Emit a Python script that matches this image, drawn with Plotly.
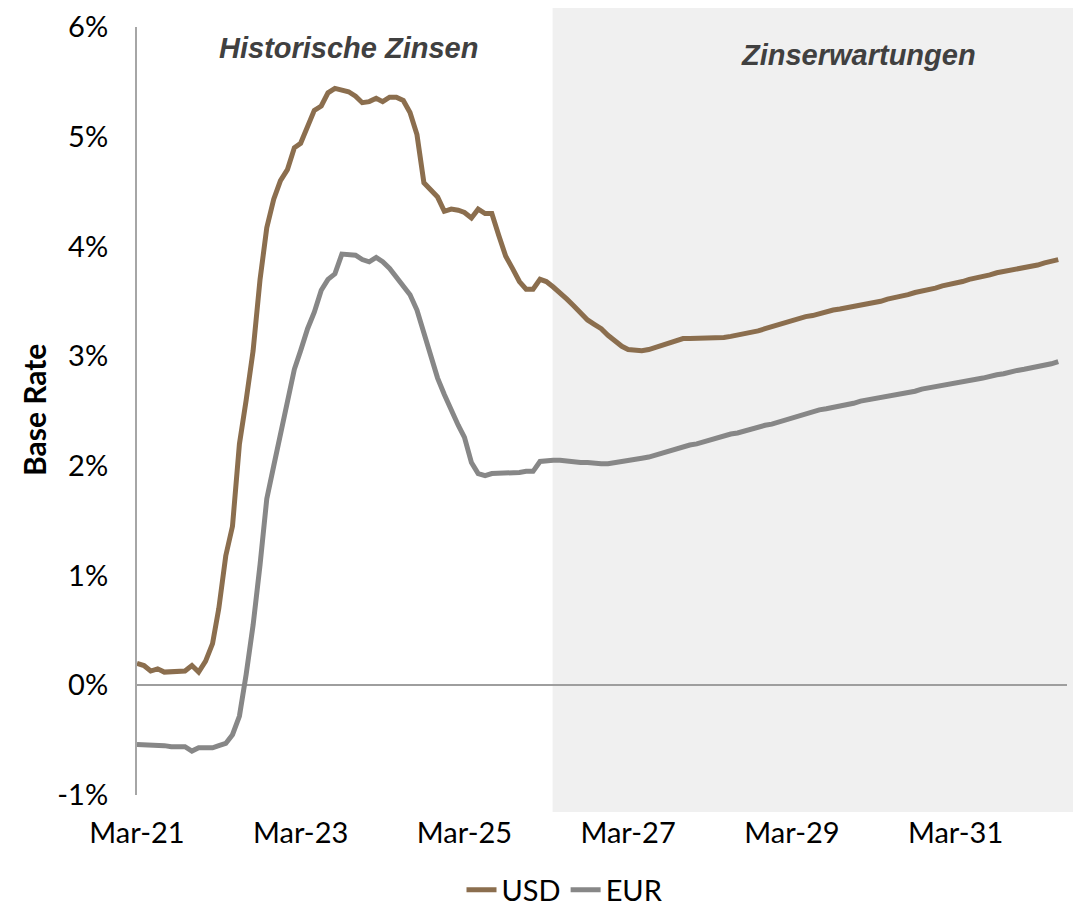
import pandas as pd
import plotly.graph_objects as go

# ---------------- data ----------------
start_month = "2021-03-01"

usd = [
    0.20, 0.18, 0.13, 0.15, 0.12, 0.12, 0.13, 0.13, 0.18, 0.12,   # Mar-21 .. Dec-21
    0.22, 0.38, 0.70, 1.18, 1.45, 2.20, 2.60, 3.05, 3.70, 4.17,   # Jan-22 .. Oct-22
    4.43, 4.60, 4.70, 4.90, 4.94, 5.10, 5.24, 5.28, 5.40, 5.44,   # Nov-22 .. Aug-23
    5.42, 5.41, 5.37, 5.31, 5.32, 5.35, 5.32, 5.36, 5.36, 5.33,   # Sep-23 .. Jun-24
    5.22, 5.02, 4.58, 4.52, 4.45, 4.32, 4.34, 4.33, 4.31, 4.26,   # Jul-24 .. Apr-25
    4.34, 4.30, 4.30, 4.10, 3.91, 3.80, 3.68, 3.61, 3.61, 3.70,   # May-25 .. Feb-26
    3.68, 3.63, 3.58, 3.52, 3.46, 3.40, 3.33, 3.29, 3.25, 3.19,   # Mar-26 .. Dec-26
    3.14, 3.09, 3.06, 3.05, 3.05, 3.06, 3.08, 3.11, 3.13, 3.15,   # Jan-27 .. Oct-27
    3.16, 3.16, 3.16, 3.16, 3.16, 3.17, 3.17, 3.18, 3.19, 3.20,   # Nov-27 .. Aug-28
    3.22, 3.23, 3.25, 3.27, 3.29, 3.31, 3.33, 3.34, 3.36, 3.37,   # Sep-28 .. Jun-29
    3.39, 3.40, 3.42, 3.43, 3.44, 3.45, 3.47, 3.48, 3.49, 3.50,   # Jul-29 .. Apr-30
    3.52, 3.53, 3.55, 3.56, 3.58, 3.59, 3.61, 3.62, 3.64, 3.65,   # May-30 .. Feb-31
    3.67, 3.68, 3.70, 3.71, 3.73, 3.74, 3.76, 3.77, 3.78, 3.80,   # Mar-31 .. Dec-31
    3.81, 3.82, 3.83, 3.85, 3.86, 3.88,                           # Jan-32 .. Jun-32
]

eur = [
    -0.54, -0.54, -0.54, -0.55, -0.55, -0.56, -0.56, -0.56, -0.60, -0.57,
    -0.57, -0.57, -0.55, -0.53, -0.45, -0.28, 0.10, 0.55, 1.10, 1.70,
    2.00, 2.30, 2.62, 2.88, 3.05, 3.25, 3.40, 3.60, 3.70, 3.75,
    3.93, 3.93, 3.92, 3.88, 3.86, 3.90, 3.86, 3.80, 3.72, 3.65,
    3.56, 3.42, 3.20, 3.00, 2.80, 2.65, 2.50, 2.37, 2.26, 2.03,
    1.93, 1.91, 1.93, 1.93, 1.94, 1.94, 1.94, 1.95, 1.95, 2.04,
    2.05, 2.05, 2.05, 2.04, 2.04, 2.03, 2.03, 2.02, 2.02, 2.02,
    2.03, 2.03, 2.04, 2.05, 2.07, 2.08, 2.10, 2.11, 2.13, 2.15,
    2.17, 2.19, 2.20, 2.22, 2.24, 2.26, 2.27, 2.29, 2.30, 2.32,
    2.33, 2.35, 2.37, 2.38, 2.40, 2.42, 2.44, 2.46, 2.48, 2.49,
    2.51, 2.52, 2.53, 2.55, 2.56, 2.57, 2.59, 2.60, 2.61, 2.62,
    2.64, 2.65, 2.66, 2.67, 2.68, 2.70, 2.71, 2.72, 2.73, 2.75,
    2.76, 2.77, 2.78, 2.79, 2.80, 2.82, 2.83, 2.84, 2.86, 2.87,
    2.88, 2.89, 2.91, 2.92, 2.93, 2.95,
]

series_names = ["USD", "EUR"]
section_labels = ["Historische Zinsen", "Zinserwartungen"]
forecast_start = "2026-03-29"
y_ticks = [-1, 0, 1, 2, 3, 4, 5, 6]
y_ticklabels = ["-1%", "0%", "1%", "2%", "3%", "4%", "5%", "6%"]
y_title = "Base Rate"

dates = pd.date_range(start_month, periods=len(usd), freq="MS")

# ---------------- figure ----------------
USD_COLOR = "#8B6E4E"
EUR_COLOR = "#878787"

fig = go.Figure()
fig.add_trace(go.Scatter(x=dates, y=usd, mode="lines", name=series_names[0],
                         line=dict(color=USD_COLOR, width=5)))
fig.add_trace(go.Scatter(x=dates, y=eur, mode="lines", name=series_names[1],
                         line=dict(color=EUR_COLOR, width=5)))

# the page body adds an 8px offset; positions below are in figure pixels
OFF = 8
W, H = 1081 - OFF, 906 - OFF
L, R, T, B = 137 - OFF, 14, 27 - OFF, 111
x_range = ["2021-03-01", "2032-07-10"]

t0 = pd.Timestamp(x_range[0]).value
t1 = pd.Timestamp(x_range[1]).value
fs = pd.Timestamp(forecast_start).value
x0_paper = (fs - t0) / (t1 - t0)
plot_w = W - L - R
plot_h = H - T - B


def px_x(vx):  # viewport x -> paper x
    return (vx - OFF - L) / plot_w


def px_y(vy):  # viewport y -> paper y
    return 1 - (vy - OFF - T) / plot_h


fig.add_shape(type="rect", xref="paper", yref="paper",
              x0=x0_paper, x1=px_x(1073),
              y0=px_y(812), y1=px_y(2),
              fillcolor="#F0F0F0", line=dict(width=0), layer="below")

ann_font = dict(family="Liberation Sans, Arial", size=29,
                color="#404040", weight="bold", style="italic")
fig.add_annotation(x=px_x(348), y=px_y(48),
                   xref="paper", yref="paper", text=section_labels[0],
                   showarrow=False, xanchor="center", yanchor="middle",
                   font=ann_font)
fig.add_annotation(x=px_x(858), y=px_y(55),
                   xref="paper", yref="paper", text=section_labels[1],
                   showarrow=False, xanchor="center", yanchor="middle",
                   font=ann_font)

fig.add_annotation(x=px_x(34), y=px_y(410),
                   xref="paper", yref="paper", text=y_title, textangle=-90,
                   showarrow=False, xanchor="center", yanchor="middle",
                   font=dict(family="Liberation Sans Narrow, Lato, sans-serif",
                             size=30, weight="bold", color="#000000"))

fig.update_layout(
    width=W, height=H,
    margin=dict(l=L, r=R, t=T, b=B, pad=0, autoexpand=False),
    paper_bgcolor="white", plot_bgcolor="rgba(0,0,0,0)",
    font=dict(family="Lato, sans-serif", size=29, color="#000000"),
    showlegend=True,
    legend=dict(orientation="h", x=px_x(565), xanchor="center",
                y=px_y(890), yanchor="middle",
                font=dict(size=29, color="#000000"),
                bgcolor="rgba(0,0,0,0)", itemwidth=30, tracegroupgap=0),
    xaxis=dict(range=x_range, type="date", tick0="2021-03-01", dtick="M24",
               tickformat="%b-%y", showgrid=False, zeroline=False,
               showline=False, ticks="", ticklabelstandoff=18,
               automargin=False, tickfont=dict(size=29)),
    yaxis=dict(range=[-1, 6], tickmode="array", tickvals=y_ticks,
               ticktext=y_ticklabels,
               showgrid=False, zeroline=True, zerolinecolor="#9E9E9E",
               zerolinewidth=2, showline=True, linecolor="#A6A6A6",
               linewidth=2, ticks="", ticklabelstandoff=21,
               automargin=False, tickfont=dict(size=29)),
)

fig.write_html("out.html")
